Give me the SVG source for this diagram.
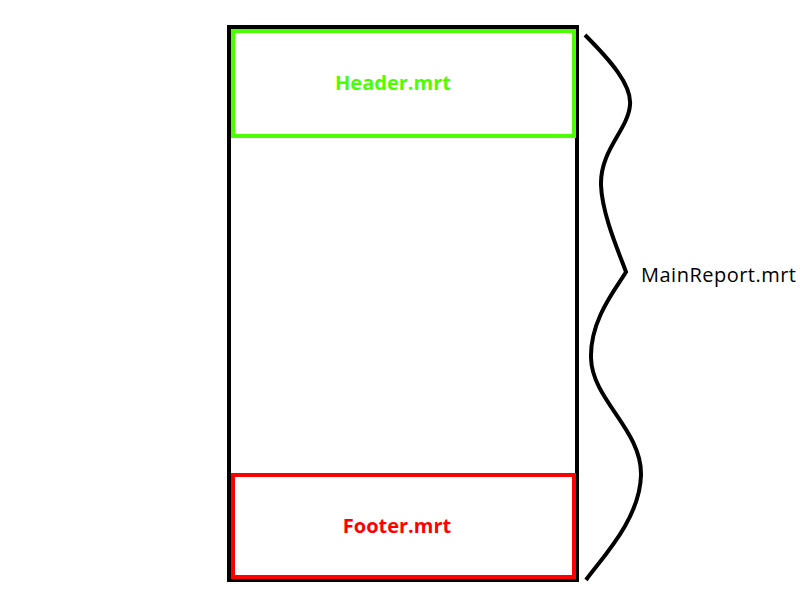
<svg xmlns="http://www.w3.org/2000/svg" width="800" height="600" viewBox="0 0 800 600">
<style>
.box{fill:none;stroke-width:4}
.lbl{font-family:"Open Sans","Noto Sans","Liberation Sans",sans-serif;font-size:20px}
</style>
<rect width="800" height="600" fill="#fff"/>
<g id="main-report">
<rect class="box" x="229" y="27" width="348" height="553" stroke="#000"/>
</g>
<g id="header">
<rect class="box" x="233" y="31" width="341" height="105" stroke="#4cff00"/>
<text class="lbl" x="393" y="90" text-anchor="middle" font-weight="bold" fill="#4cff00">Header.mrt</text>
</g>
<g id="footer">
<rect class="box" x="233" y="475" width="341" height="102" stroke="#ff0000"/>
<text class="lbl" x="397" y="533" text-anchor="middle" font-weight="bold" fill="#ff0000">Footer.mrt</text>
</g>
<g id="connectors">
<path d="M585,35 C610,60 632,85 630,105 C628,130 600,150 601,185 C602,215 620,255 626,272 C615,290 590,320 591,358 C592,400 642,430 641,475 C640,520 600,560 586,580" fill="none" stroke="#000" stroke-width="4"/>
</g>
<g id="main-label">
<text class="lbl" x="641" y="282" font-size="21" textLength="155" fill="#000">MainReport.mrt</text>
</g>
</svg>
